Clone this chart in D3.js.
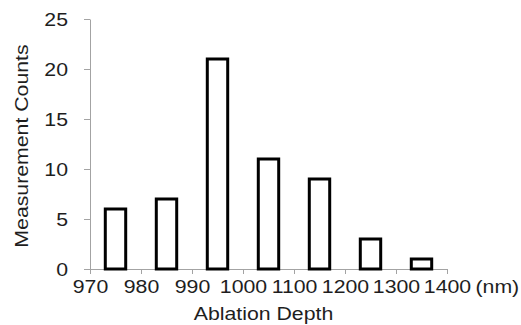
<!DOCTYPE html>
<html>
<head>
<meta charset="utf-8">
<script src="https://cdn.jsdelivr.net/npm/d3@7"></script>
<style>
  html, body { margin: 0; padding: 0; background: #fff; }
  svg { display: block; }
  text { font-family: "Liberation Sans", Arial, sans-serif; fill: #1e1e1e; }
</style>
</head>
<body>
<div id="chart"></div>
<script>
// Bin edges shown on the x axis (labels sit on the bin boundaries).
var edgeLabels = ["970", "980", "990", "1000", "1100", "1200", "1300", "1400"];
// One bin between each pair of edges.
var bins = ["970-980", "980-990", "990-1000", "1000-1100", "1100-1200", "1200-1300", "1300-1400"];
var counts = [6, 7, 21, 11, 9, 3, 1];
var yTicks = [0, 5, 10, 15, 20, 25];

var width = 521, height = 325;
var fontSize = 18.5, stretch = 1.15;   // text in the source is a bit wide
var axisColor = "#a3a3a3";

var svg = d3.select("#chart").append("svg")
  .attr("width", width)
  .attr("height", height);

// Plot area box.
var box = { left: 90, right: 447, top: 19, bottom: 269 };

var y = d3.scaleLinear().domain([0, 25]).range([box.bottom, box.top]);

// Bars are centred in each bin.
var x = d3.scaleBand().domain(bins)
  .range([box.left, box.right])
  .paddingInner(0.6)
  .paddingOuter(0.3);

// Bin edges for ticks and labels.
var xEdge = d3.scalePoint().domain(edgeLabels).range([box.left, box.right]);

// Y axis.
var yAxis = svg.append("g")
  .attr("transform", "translate(" + box.left + ",0)")
  .call(d3.axisLeft(y).tickValues(yTicks).tickSize(6).tickSizeOuter(0));
yAxis.select(".domain").attr("stroke", axisColor);
yAxis.selectAll(".tick line").attr("stroke", axisColor);
yAxis.selectAll(".tick text")
  .attr("x", 0).attr("dy", "0.36em")
  .attr("font-size", fontSize)
  .attr("font-family", null)
  .attr("fill", null)
  .attr("text-anchor", "end")
  .attr("transform", "translate(-22,0) scale(" + stretch + ",1)");

// X axis.
var xAxis = svg.append("g")
  .attr("transform", "translate(0," + box.bottom + ")")
  .call(d3.axisBottom(xEdge).tickSize(5).tickSizeOuter(0));
xAxis.select(".domain").attr("stroke", axisColor);
xAxis.selectAll(".tick line").attr("stroke", axisColor);
xAxis.selectAll(".tick text")
  .attr("y", 0).attr("dy", 0)
  .attr("font-size", fontSize)
  .attr("font-family", null)
  .attr("fill", null)
  .attr("transform", "translate(0,24) scale(" + stretch + ",1)");

// Bars.
svg.append("g").selectAll("rect")
  .data(counts)
  .join("rect")
  .attr("x", function (d, i) { return x(bins[i]); })
  .attr("y", function (d) { return y(d); })
  .attr("width", x.bandwidth())
  .attr("height", function (d) { return y(0) - y(d); })
  .attr("fill", "#fff")
  .attr("stroke", "#000")
  .attr("stroke-width", 3);

// Unit after the last tick label.
svg.append("text")
  .attr("font-size", fontSize)
  .attr("text-anchor", "start")
  .attr("transform", "translate(475.5,293) scale(" + stretch + ",1)")
  .text("(nm)");

// Axis titles.
svg.append("text")
  .attr("font-size", fontSize)
  .attr("text-anchor", "middle")
  .attr("transform", "translate(263.5,320) scale(" + stretch + ",1)")
  .text("Ablation Depth");

svg.append("text")
  .attr("font-size", fontSize)
  .attr("text-anchor", "middle")
  .attr("transform", "translate(28,146) rotate(-90) scale(" + stretch + ",1)")
  .text("Measurement Counts");
</script>
</body>
</html>
